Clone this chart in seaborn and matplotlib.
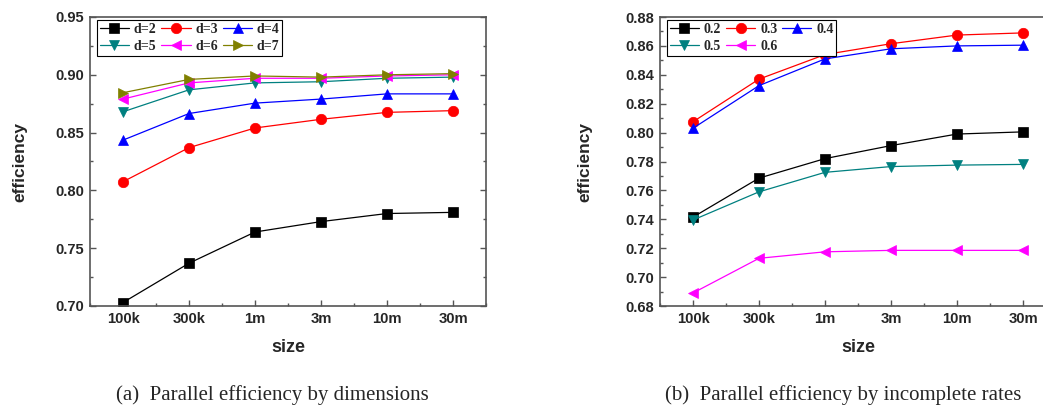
import matplotlib
matplotlib.use("Agg")
import matplotlib.pyplot as plt
import seaborn as sns
import pandas as pd
from matplotlib.ticker import MultipleLocator, FixedLocator

sizes = ["100k", "300k", "1m", "3m", "10m", "30m"]

# (a) by dimensions
dims = ["d=2", "d=3", "d=4", "d=5", "d=6", "d=7"]
eff_d2 = [0.703, 0.737, 0.764, 0.773, 0.780, 0.781]
eff_d3 = [0.8075, 0.837, 0.854, 0.8615, 0.8675, 0.869]
eff_d4 = [0.8435, 0.8665, 0.8755, 0.879, 0.8835, 0.8835]
eff_d5 = [0.868, 0.887, 0.893, 0.894, 0.897, 0.898]
eff_d6 = [0.879, 0.893, 0.897, 0.897, 0.899, 0.900]
eff_d7 = [0.8845, 0.896, 0.899, 0.898, 0.900, 0.901]

# (b) by incomplete rates
rates = ["0.2", "0.3", "0.4", "0.5", "0.6"]
eff_r02 = [0.7415, 0.7685, 0.782, 0.791, 0.799, 0.8005]
eff_r03 = [0.8075, 0.837, 0.854, 0.8615, 0.8675, 0.869]
eff_r04 = [0.803, 0.8325, 0.851, 0.858, 0.860, 0.8605]
eff_r05 = [0.7395, 0.759, 0.7725, 0.7765, 0.7775, 0.778]
eff_r06 = [0.689, 0.713, 0.7175, 0.7185, 0.7185, 0.7185]

colors_a = ["#000000", "#FF0000", "#0000FF", "#008080", "#FF00FF", "#808000"]
markers_a = ["s", "o", "^", "v", "<", ">"]
colors_b = ["#000000", "#FF0000", "#0000FF", "#008080", "#FF00FF"]
markers_b = ["s", "o", "^", "v", "<"]


def long_df(names, series):
    rows = []
    for name, vals in zip(names, series):
        for i, v in enumerate(vals):
            rows.append({"series": name, "pos": i, "eff": v})
    return pd.DataFrame(rows)


df_a = long_df(dims, [eff_d2, eff_d3, eff_d4, eff_d5, eff_d6, eff_d7])
df_b = long_df(rates, [eff_r02, eff_r03, eff_r04, eff_r05, eff_r06])

sns.set_style("ticks")
plt.rcParams["font.family"] = ["Liberation Sans", "DejaVu Sans"]

W, H = 1043, 407
fig = plt.figure(figsize=(W / 100, H / 100), dpi=100)


def px_axes(x0, y0, x1, y1):
    return fig.add_axes([x0 / W, 1 - y1 / H, (x1 - x0) / W, (y1 - y0) / H])


ax_a = px_axes(90, 17, 486, 306)
ax_b = px_axes(660, 17, 1056, 306)

spine_col = "#555555"


def draw(ax, df, names, colors, markers, ylim, ymaj, ymin, ncol_order, ylab_x):
    sns.lineplot(data=df, x="pos", y="eff", hue="series", style="series",
                 hue_order=names, style_order=names,
                 palette=dict(zip(names, colors)),
                 markers=dict(zip(names, markers)), dashes=False,
                 markersize=7.5, linewidth=0.9, legend=False, ax=ax)
    for ln, c in zip(ax.lines, colors):
        ln.set_markeredgecolor(c)
        ln.set_markerfacecolor(c)
        ln.set_markeredgewidth(0.5)
    ax.set_xlim(-0.5, 5.5)
    ax.set_ylim(*ylim)
    ax.xaxis.set_major_locator(FixedLocator(range(len(sizes))))
    ax.set_xticklabels(sizes)
    ax.xaxis.set_minor_locator(FixedLocator([i + 0.5 for i in range(-1, len(sizes))]))
    ax.yaxis.set_major_locator(MultipleLocator(ymaj))
    ax.yaxis.set_minor_locator(MultipleLocator(ymin))
    ax.yaxis.set_major_formatter(plt.FormatStrFormatter("%.2f"))
    ax.tick_params(which="both", direction="in", color=spine_col, width=1.0,
                   left=True, right=True, top=False, bottom=True,
                   labelsize=10.6, pad=4)
    ax.tick_params(which="major", length=4)
    ax.tick_params(which="minor", length=2.5)
    for lbl in ax.get_xticklabels() + ax.get_yticklabels():
        lbl.set_fontweight("bold")
    for sp in ax.spines.values():
        sp.set_visible(True)
        sp.set_color(spine_col)
        sp.set_linewidth(1.2)
    ax.set_xlabel("size", fontsize=13, fontweight="bold", labelpad=10)
    ax.set_ylabel("efficiency", fontsize=12.5, fontweight="bold")
    ax.yaxis.set_label_coords(ylab_x, 0.5)
    handles = [ax.lines[i] for i in ncol_order]
    labels = [names[i] for i in ncol_order]
    leg = ax.legend(handles, labels, ncol=3, loc="upper left",
                    bbox_to_anchor=(7 / 396, 1 - 3 / 289), borderaxespad=0,
                    prop={"family": "Liberation Serif", "weight": "bold", "size": 10},
                    handlelength=2.1, handletextpad=0.35, columnspacing=0.35,
                    borderpad=0.2, labelspacing=0.32, fancybox=False,
                    framealpha=1, edgecolor="black")
    leg.get_frame().set_linewidth(0.8)


draw(ax_a, df_a, dims, colors_a, markers_a, (0.70, 0.95), 0.05, 0.025,
     [0, 3, 1, 4, 2, 5], (27 - 90) / 396)
draw(ax_b, df_b, rates, colors_b, markers_b, (0.68, 0.88), 0.02, 0.01,
     [0, 3, 1, 4, 2], (592 - 660) / 396)

fig.text(272 / W, 1 - 395 / H, "(a)  Parallel efficiency by dimensions",
         ha="center", va="center", fontsize=15, family="Liberation Serif")
fig.text(843 / W, 1 - 395 / H, "(b)  Parallel efficiency by incomplete rates",
         ha="center", va="center", fontsize=15, family="Liberation Serif")

fig.savefig("out.png", dpi=100)
